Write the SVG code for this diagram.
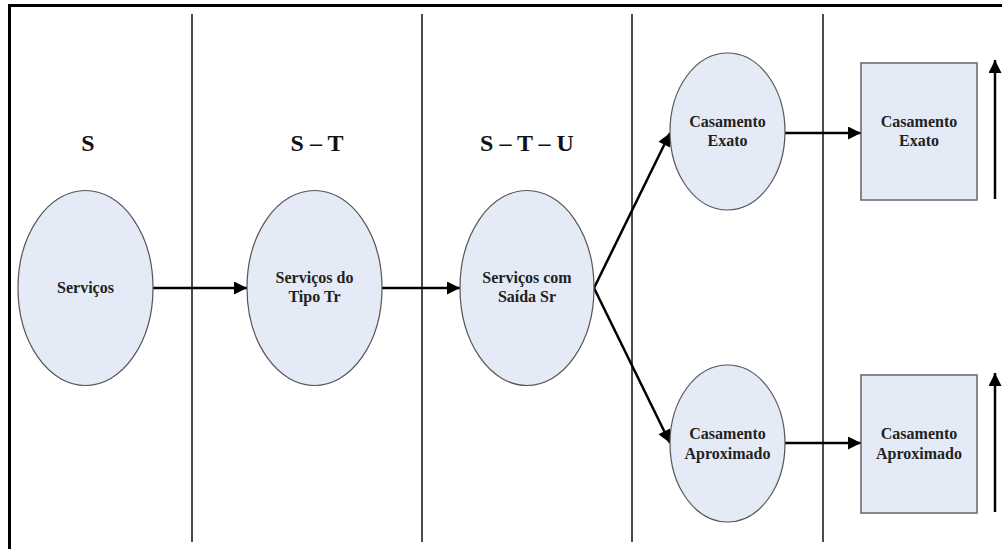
<svg xmlns="http://www.w3.org/2000/svg" width="1002" height="549" viewBox="0 0 1002 549">
  <style>
    .frame { stroke: #000; stroke-width: 3; fill: none; }
    .lane { stroke: #111; stroke-width: 1.5; }
    .node { fill: #e4ebf6; stroke: #555; stroke-width: 1.2; }
    .box { fill: #e4ebf6; stroke: #666; stroke-width: 1.5; }
    .hdr { font-family: "Liberation Serif", "Times New Roman", serif; font-weight: bold; font-size: 24px; fill: #111; text-anchor: middle; }
    .lbl { font-family: "Liberation Serif", "Times New Roman", serif; font-weight: bold; font-size: 16px; fill: #222; text-anchor: middle; }
    .edge { stroke: #000; stroke-width: 2.5; fill: none; marker-end: url(#head); }
  </style>
  <defs>
    <marker id="head" viewBox="0 0 10 10" refX="10" refY="5" markerUnits="userSpaceOnUse" markerWidth="19" markerHeight="13" orient="auto">
      <path d="M0,0 L10,5 L0,10 Z" fill="#000"/>
    </marker>
  </defs>

  <rect width="1002" height="549" fill="#fff"/>

  <!-- outer frame (top and left edges) -->
  <path class="frame" d="M9.5,549 V5.5 H1002"/>

  <!-- lane separators -->
  <g id="lanes">
    <line class="lane" x1="192" y1="14" x2="192" y2="542"/>
    <line class="lane" x1="422" y1="14" x2="422" y2="542"/>
    <line class="lane" x1="632" y1="14" x2="632" y2="542"/>
    <line class="lane" x1="823" y1="14" x2="823" y2="542"/>
  </g>

  <!-- lane headings -->
  <g id="headings">
    <text class="hdr" x="88" y="151">S</text>
    <text class="hdr" x="317" y="151">S – T</text>
    <text class="hdr" x="527" y="151">S – T – U</text>
  </g>

  <g id="connectors">
    <line class="edge" x1="153" y1="288" x2="247" y2="288"/>
    <line class="edge" x1="382" y1="288" x2="460" y2="288"/>
    <line class="edge" x1="594" y1="288" x2="670" y2="133"/>
    <line class="edge" x1="594" y1="288" x2="670" y2="443"/>
    <line class="edge" x1="785" y1="133" x2="861" y2="133"/>
    <line class="edge" x1="785" y1="443" x2="861" y2="443"/>
    <line class="edge" x1="995" y1="199" x2="995" y2="60"/>
    <line class="edge" x1="995" y1="512" x2="995" y2="373"/>
  </g>

  <g id="servicos">
    <ellipse class="node" cx="85.5" cy="288" rx="67.5" ry="97.5"/>
    <text class="lbl" x="85.5" y="293">Serviços</text>
  </g>

  <g id="servicos-tipo">
    <ellipse class="node" cx="314.5" cy="288" rx="67.5" ry="97.5"/>
    <text class="lbl" x="314.5" y="283">Serviços do</text>
    <text class="lbl" x="314.5" y="302">Tipo Tr</text>
  </g>

  <g id="servicos-saida">
    <ellipse class="node" cx="527" cy="288" rx="67" ry="97.5"/>
    <text class="lbl" x="527" y="283">Serviços com</text>
    <text class="lbl" x="527" y="302">Saída Sr</text>
  </g>

  <g id="casamento-exato">
    <ellipse class="node" cx="727.5" cy="131.5" rx="57.5" ry="78.5"/>
    <text class="lbl" x="727.5" y="127">Casamento</text>
    <text class="lbl" x="727.5" y="146">Exato</text>
  </g>

  <g id="casamento-aprox">
    <ellipse class="node" cx="727.5" cy="443.5" rx="57.5" ry="78.5"/>
    <text class="lbl" x="727.5" y="439">Casamento</text>
    <text class="lbl" x="727.5" y="459">Aproximado</text>
  </g>

  <g id="resultado-exato">
    <rect class="box" x="861" y="63" width="116" height="137"/>
    <text class="lbl" x="919" y="127">Casamento</text>
    <text class="lbl" x="919" y="146">Exato</text>
  </g>

  <g id="resultado-aprox">
    <rect class="box" x="861" y="375" width="116" height="138"/>
    <text class="lbl" x="919" y="439">Casamento</text>
    <text class="lbl" x="919" y="459">Aproximado</text>
  </g>
</svg>
